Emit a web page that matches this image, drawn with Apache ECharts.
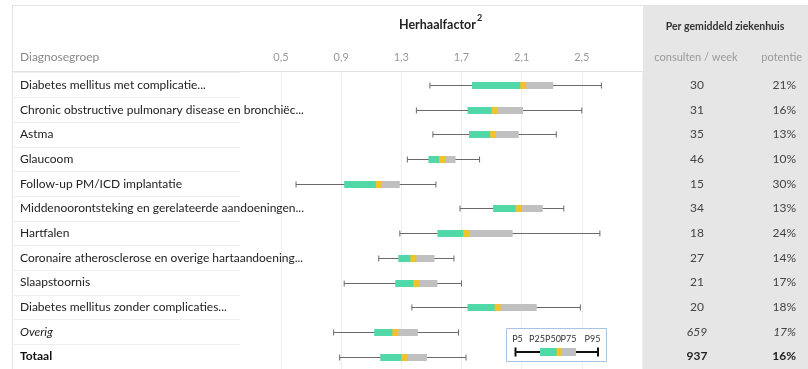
<!DOCTYPE html>
<html>
<head>
<meta charset="utf-8">
<script src="https://cdn.jsdelivr.net/npm/echarts@6/dist/echarts.min.js"></script>
<style>
  html, body { margin: 0; padding: 0; background: #fff; }
  #chart { width: 808px; height: 369px; }
</style>
</head>
<body>
<div id="chart"></div>
<script>
// diagnosegroepen, van boven naar onder
var groepen = [
  'Diabetes mellitus met complicatie...',
  'Chronic obstructive pulmonary disease en bronchiëc...',
  'Astma',
  'Glaucoom',
  'Follow-up PM/ICD implantatie',
  'Middenoorontsteking en gerelateerde aandoeningen...',
  'Hartfalen',
  'Coronaire atherosclerose en overige hartaandoening...',
  'Slaapstoornis',
  'Diabetes mellitus zonder complicaties...',
  'Overig',
  'Totaal'
];

// herhaalfactor percentielen
var p5  = [1.49, 1.40, 1.51, 1.34, 0.60, 1.69, 1.29, 1.15, 0.92, 1.37, 0.85, 0.89];
var p25 = [1.77, 1.74, 1.75, 1.48, 0.92, 1.91, 1.54, 1.28, 1.26, 1.74, 1.12, 1.16];
var p50 = [2.11, 1.92, 1.91, 1.57, 1.15, 2.08, 1.73, 1.38, 1.40, 1.94, 1.26, 1.32];
var p75 = [2.31, 2.11, 2.08, 1.66, 1.29, 2.24, 2.04, 1.52, 1.54, 2.20, 1.41, 1.47];
var p95 = [2.63, 2.50, 2.33, 1.82, 1.53, 2.38, 2.62, 1.65, 1.70, 2.49, 1.68, 1.73];

// per gemiddeld ziekenhuis
var consulten = [30, 31, 35, 46, 15, 34, 18, 27, 21, 20, 659, 937];
var potentie  = [21, 16, 13, 10, 30, 13, 24, 14, 17, 18, 17, 16];

var xTicks = [0.5, 0.9, 1.3, 1.7, 2.1, 2.5];
var legendaLabels = ['P5', 'P25', 'P50', 'P75', 'P95'];

var groen = '#50d8a8', geel = '#f2c12e', grijs = '#c0c0c0';
var FONT = 'Lato';

var boxData = groepen.map(function (g, i) {
  return [i, p5[i], p25[i], p50[i], p75[i], p95[i]];
});

function tekenBox(params, api) {
  var y = api.value(0);
  var c5 = api.coord([api.value(1), y]);
  var c25 = api.coord([api.value(2), y]);
  var c50 = api.coord([api.value(3), y]);
  var c75 = api.coord([api.value(4), y]);
  var c95 = api.coord([api.value(5), y]);
  var cy = Math.round(c5[1]) + 0.5;
  var h = 7;
  var lijn = { stroke: '#6a6a6a', lineWidth: 1 };
  return {
    type: 'group',
    children: [
      { type: 'line', shape: { x1: c5[0], y1: cy, x2: c95[0], y2: cy }, style: lijn },
      { type: 'line', shape: { x1: c5[0], y1: cy - 3, x2: c5[0], y2: cy + 3 }, style: lijn },
      { type: 'line', shape: { x1: c95[0], y1: cy - 3, x2: c95[0], y2: cy + 3 }, style: lijn },
      { type: 'rect', shape: { x: c25[0], y: cy - h / 2, width: c50[0] - c25[0], height: h }, style: { fill: groen } },
      { type: 'rect', shape: { x: c50[0], y: cy - h / 2, width: c75[0] - c50[0], height: h }, style: { fill: grijs } },
      { type: 'rect', shape: { x: c50[0] - 3, y: cy - h / 2, width: 6, height: h }, style: { fill: geel } }
    ]
  };
}

function rijStijl(txt, i) {
  if (i === groepen.length - 2) return '{i|' + txt + '}';
  if (i === groepen.length - 1) return '{b|' + txt + '}';
  return '{n|' + txt + '}';
}

var rich = {
  n: { fontFamily: FONT, fontSize: 12, color: '#222' },
  i: { fontFamily: FONT, fontSize: 12, color: '#222', fontStyle: 'italic' },
  b: { fontFamily: FONT, fontSize: 12, color: '#111', fontWeight: 'bold' }
};
var richR = {
  n: { fontFamily: FONT, fontSize: 12, color: '#444' },
  i: { fontFamily: FONT, fontSize: 12, color: '#444', fontStyle: 'italic' },
  b: { fontFamily: FONT, fontSize: 12, color: '#222', fontWeight: 'bold' }
};

// breedte van de titel meten, zodat de "2" er direct achter komt
var titelFont = 'bold 12.5px ' + FONT;
var ctx = document.createElement('canvas').getContext('2d');
ctx.font = titelFont;
var titelBreedte = ctx.measureText('Herhaalfactor').width;

var gridTop = 72.7, gridH = 296.2;

var legendaX = [517.5, 537, 553, 568.5, 592.5];
var legendaTekst = legendaLabels.map(function (t, k) {
  return { type: 'text', z: 11, x: legendaX[k], y: 339.5, style: { text: t, font: '9px ' + FONT, fill: '#333', align: 'center', verticalAlign: 'middle' } };
});

var myChart = echarts.init(document.getElementById('chart'));

var option = {
  backgroundColor: '#fff',
  animation: false,
  textStyle: { fontFamily: FONT },
  grid: [
    { left: 281, right: 166, top: gridTop, height: gridH },
    { left: 12, width: 228, top: gridTop, height: gridH }
  ],
  xAxis: [{
    type: 'value',
    position: 'top',
    min: 0.5,
    max: 2.9,
    interval: 0.4,
    axisLine: { show: false },
    axisTick: { show: false },
    axisLabel: {
      margin: 10,
      color: '#999',
      fontSize: 11,
      fontFamily: FONT,
      formatter: function (v) {
        for (var k = 0; k < xTicks.length; k++) {
          if (Math.abs(xTicks[k] - v) < 1e-6) return xTicks[k].toFixed(1).replace('.', ',');
        }
        return '';
      }
    },
    splitLine: { lineStyle: { color: '#eeeeee' } }
  }, {
    gridIndex: 1, type: 'value', show: false
  }],
  yAxis: [{
    type: 'category',
    data: groepen,
    inverse: true,
    axisLine: { show: false },
    axisTick: { show: false },
    axisLabel: { align: 'left', margin: 261, formatter: rijStijl, rich: rich }
  }, {
    type: 'category',
    position: 'right',
    data: consulten.map(String),
    inverse: true,
    axisLine: { show: false },
    axisTick: { show: false },
    axisLabel: { align: 'center', margin: 55, formatter: function (v, i) { return rijStijl(v, i); }, rich: richR }
  }, {
    type: 'category',
    position: 'right',
    data: potentie.map(function (p) { return p + '%'; }),
    inverse: true,
    axisLine: { show: false },
    axisTick: { show: false },
    axisLabel: { align: 'right', margin: 154, formatter: function (v, i) { return rijStijl(v, i); }, rich: richR }
  }, {
    gridIndex: 1,
    type: 'category',
    data: groepen,
    inverse: true,
    axisLine: { show: false },
    axisTick: { show: false },
    axisLabel: { show: false },
    splitLine: { show: true, lineStyle: { color: '#eeeeee' } }
  }],
  graphic: [
    // rechter paneel
    { type: 'rect', z: -10, shape: { x: 643, y: 6, width: 165, height: 363 }, style: { fill: '#e6e6e6' } },
    // kader
    { type: 'line', z: -5, shape: { x1: 12, y1: 5.5, x2: 808, y2: 5.5 }, style: { stroke: '#e4e4e4', lineWidth: 1 } },
    { type: 'line', z: -5, shape: { x1: 12.5, y1: 5, x2: 12.5, y2: 369 }, style: { stroke: '#e4e4e4', lineWidth: 1 } },
    { type: 'line', z: -5, shape: { x1: 12, y1: 71.5, x2: 643, y2: 71.5 }, style: { stroke: '#e2e2e2', lineWidth: 1 } },
    // koppen
    { type: 'text', z: 10, x: 399, y: 25, style: { text: 'Herhaalfactor', font: titelFont, fill: '#222', verticalAlign: 'middle' } },
    { type: 'text', z: 10, x: 399 + titelBreedte + 1, y: 18, style: { text: '2', font: 'bold 9px ' + FONT, fill: '#222', verticalAlign: 'middle' } },
    { type: 'text', z: 10, x: 725, y: 27, style: { text: 'Per gemiddeld ziekenhuis', font: 'bold 10.5px ' + FONT, fill: '#333', align: 'center', verticalAlign: 'middle' } },
    { type: 'text', z: 10, x: 20, y: 57, style: { text: 'Diagnosegroep', font: '12px ' + FONT, fill: '#888', verticalAlign: 'middle' } },
    { type: 'text', z: 10, x: 696, y: 57, style: { text: 'consulten / week', font: '11px ' + FONT, fill: '#999', align: 'center', verticalAlign: 'middle' } },
    { type: 'text', z: 10, x: 802, y: 57, style: { text: 'potentie', font: '11px ' + FONT, fill: '#999', align: 'right', verticalAlign: 'middle' } },
    // legenda
    { type: 'rect', z: 10, shape: { x: 506.5, y: 328.5, width: 100, height: 33 }, style: { fill: '#fff', stroke: '#a8c4e2', lineWidth: 1 } },
    { type: 'line', z: 11, shape: { x1: 515.5, y1: 352, x2: 598, y2: 352 }, style: { stroke: '#111', lineWidth: 2 } },
    { type: 'line', z: 11, shape: { x1: 515.5, y1: 347.5, x2: 515.5, y2: 356.5 }, style: { stroke: '#111', lineWidth: 2 } },
    { type: 'line', z: 11, shape: { x1: 598, y1: 347.5, x2: 598, y2: 356.5 }, style: { stroke: '#111', lineWidth: 2 } },
    { type: 'rect', z: 12, shape: { x: 540, y: 348, width: 17, height: 8 }, style: { fill: groen } },
    { type: 'rect', z: 12, shape: { x: 560.5, y: 348, width: 15.5, height: 8 }, style: { fill: grijs } },
    { type: 'rect', z: 12, shape: { x: 556.5, y: 348, width: 4.5, height: 8 }, style: { fill: geel } }
  ].concat(legendaTekst),
  series: [{
    type: 'custom',
    renderItem: tekenBox,
    encode: { x: [1, 2, 3, 4, 5], y: 0 },
    data: boxData,
    silent: true
  }]
};

myChart.setOption(option);
</script>
</body>
</html>
